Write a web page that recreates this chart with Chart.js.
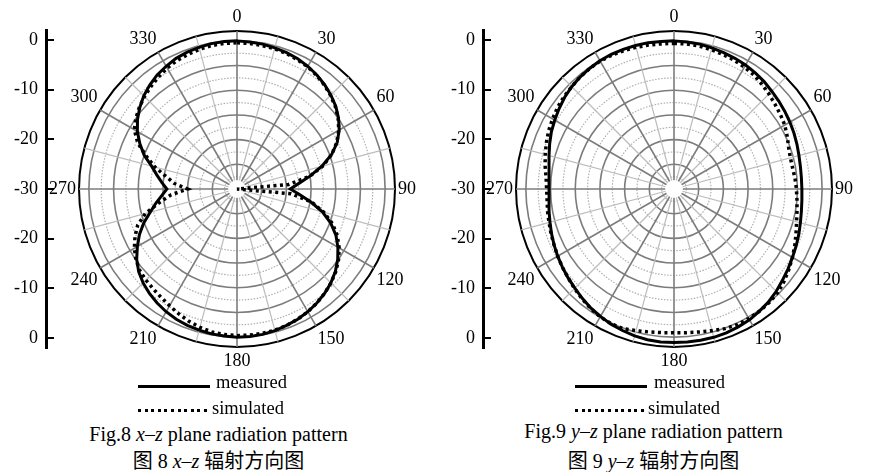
<!DOCTYPE html>
<html lang="zh">
<head>
<meta charset="UTF-8">
<title>Radiation pattern</title>
<script src="https://cdn.jsdelivr.net/npm/chart.js"></script>
<style>
  body { margin: 0; background: #fff; width: 870px; height: 472px; overflow: hidden; position: relative;
         font-family: "Liberation Serif", "Noto Sans CJK SC", serif; color: #000; }
  canvas { position: absolute; }
  .txt { position: absolute; white-space: nowrap; line-height: 1; font-size: 18.5px; }
  .solid { position: absolute; width: 72px; height: 3px; background: #000; }
  .dots { position: absolute; width: 72px; height: 3px;
          background: repeating-linear-gradient(to right, #000 0 3px, transparent 3px 6.6px); }
  .cap { position: absolute; text-align: center; font-size: 20px; line-height: 1; white-space: nowrap; }
</style>
</head>
<body>
<canvas id="axL" width="54" height="366" style="left:0;top:6px"></canvas>
<canvas id="polL" width="376" height="376" style="left:45px;top:2px"></canvas>
<canvas id="axR" width="54" height="366" style="left:437px;top:6px"></canvas>
<canvas id="polR" width="376" height="376" style="left:482px;top:2px"></canvas>

<div class="solid" style="left:138px;top:385px"></div>
<div class="txt" style="left:216px;top:373px">measured</div>
<div class="dots" style="left:138px;top:408.5px"></div>
<div class="txt" style="left:212px;top:399px">simulated</div>
<div class="cap" style="left:0;width:437px;top:424px">Fig.8 <i>x</i>–<i>z</i> plane radiation pattern</div>
<div class="cap" style="left:0;width:437px;top:451px">图 8 <i>x</i>–<i>z</i> 辐射方向图</div>

<div class="solid" style="left:575px;top:385px"></div>
<div class="txt" style="left:654px;top:373px">measured</div>
<div class="dots" style="left:575px;top:408.5px"></div>
<div class="txt" style="left:648px;top:399px">simulated</div>
<div class="cap" style="left:437px;width:433px;top:421px">Fig.9 <i>y</i>–<i>z</i> plane radiation pattern</div>
<div class="cap" style="left:437px;width:433px;top:451px">图 9 <i>y</i>–<i>z</i> 辐射方向图</div>

<script>
// direction in degrees, one sample every 5 degrees, clockwise from the top
const ANGLES = [0, 5, 10, 15, 20, 25, 30, 35, 40, 45, 50, 55, 60, 65, 70, 75, 80, 85,
    90, 95, 100, 105, 110, 115, 120, 125, 130, 135, 140, 145, 150, 155, 160, 165, 170, 175,
    180, 185, 190, 195, 200, 205, 210, 215, 220, 225, 230, 235, 240, 245, 250, 255, 260, 265,
    270, 275, 280, 285, 290, 295, 300, 305, 310, 315, 320, 325, 330, 335, 340, 345, 350, 355];
const ANGLE_LABELS = [0, 30, 60, 90, 120, 150, 180, 210, 240, 270, 300, 330];
// rings of the polar grid in dB, last one is the outer border
const RING_TICKS = [-30, -27.5, -25, -22.5, -20, -17.5, -15, -12.5, -10, -7.5, -5, -2.5, 0, 2];
// side axis: positions and labels (0 at the top and bottom, -30 at the centre)
const AXIS_TICKS = [-30, -20, -10, 0, 10, 20, 30];
const AXIS_LABELS = ['0', '-10', '-20', '-30', '-20', '-10', '0'];

// Fig.8 x-z plane (dB)
const XZ_MEASURED = [0, -0.1, -0.2, -0.4, -0.6, -0.9, -1.3, -1.8, -2.4, -3.1, -3.9, -4.9, -6.1, -7.6, -9.6, -12.2, -15.0, -17.5,
    -19.2, -17.3, -14.8, -12.1, -9.8, -7.9, -6.4, -5.1, -4.0, -3.1, -2.4, -1.8, -1.3, -0.9, -0.6, -0.3, -0.1, 0,
    0, -0.1, -0.2, -0.4, -0.6, -0.9, -1.3, -1.8, -2.4, -3.1, -4.0, -5.2, -6.7, -8.2, -9.9, -11.8, -13.3, -14.7,
    -15.8, -14.7, -13.5, -12.1, -10.0, -8.3, -6.7, -5.4, -4.3, -3.3, -2.5, -1.8, -1.3, -0.8, -0.5, -0.3, -0.1, 0];
const XZ_SIMULATED = [-0.4, -0.4, -0.5, -0.6, -0.8, -1.1, -1.4, -1.9, -2.5, -3.2, -4.0, -5.0, -6.2, -7.7, -9.6, -12.0, -15.0, -19.5,
    -30, -19.0, -14.6, -11.8, -9.4, -7.6, -6.1, -4.9, -3.9, -3.1, -2.4, -1.8, -1.3, -0.9, -0.6, -0.4, -0.3, -0.3,
    -0.3, -0.4, -0.6, -1.0, -1.5, -2.1, -2.7, -3.2, -3.6, -3.9, -4.3, -5.0, -6.0, -7.2, -8.6, -10.8, -14.0, -16.6,
    -20.0, -17.3, -15.4, -12.8, -10.4, -7.8, -6.0, -5.0, -4.2, -3.5, -2.9, -2.3, -1.7, -1.3, -1.0, -0.7, -0.5, -0.4];

// Fig.9 y-z plane (dB)
const YZ_MEASURED = [0, -0.1, -0.2, -0.4, -0.6, -0.8, -1.0, -1.3, -1.6, -2.0, -2.3, -2.6, -2.9, -3.2, -3.5, -3.8, -4.0, -4.1,
    -4.1, -4.0, -3.8, -3.5, -3.1, -2.7, -2.3, -1.8, -1.3, -0.7, -0.2, 0.2, 0.6, 0.8, 1.0, 1.1, 1.1, 1.1,
    1.1, 1.1, 1.0, 0.8, 0.5, 0.2, -0.2, -0.6, -1.1, -1.6, -2.0, -2.4, -2.8, -3.2, -3.6, -4.0, -4.3, -4.6,
    -4.7, -4.6, -4.3, -3.8, -3.2, -2.6, -2.1, -1.6, -1.1, -0.7, -0.4, -0.2, 0, 0.1, 0.1, 0.1, 0.1, 0];
const YZ_SIMULATED = [-0.5, -0.5, -0.6, -0.8, -1.0, -1.2, -1.5, -1.8, -2.3, -2.8, -3.3, -3.7, -4.1, -4.7, -5.3, -5.6, -5.6, -5.4,
    -5.2, -5.0, -4.7, -4.3, -3.7, -3.0, -2.3, -1.6, -0.9, -0.3, 0, 0.2, 0.3, 0.3, 0.1, -0.3, -0.6, -0.8,
    -0.9, -0.8, -0.6, -0.3, 0.1, 0.1, -0.1, -0.5, -1.0, -1.5, -2.0, -2.4, -2.8, -3.2, -3.5, -3.8, -4.0, -4.2,
    -4.2, -4.0, -3.5, -3.0, -2.5, -2.0, -1.6, -1.2, -0.9, -0.7, -0.4, -0.2, -0.1, -0.1, -0.2, -0.3, -0.4, -0.5];

const FONT = { family: 'Liberation Serif', size: 18 };
const R_MIN = RING_TICKS[0];
const R_MAX = RING_TICKS[RING_TICKS.length - 1];
const HOLE_DB = -28.2;

// white disc over the middle of the grid, like the original plot
const holePlugin = {
    id: 'hole',
    beforeDatasetsDraw(chart) {
        const r = chart.scales.r;
        const ctx = chart.ctx;
        ctx.save();
        ctx.fillStyle = '#fff';
        ctx.beginPath();
        ctx.arc(r.xCenter, r.yCenter, r.getDistanceFromCenterForValue(HOLE_DB), 0, 2 * Math.PI);
        ctx.fill();
        ctx.restore();
    }
};

function spoke(ctx) {
    const a = ANGLES[ctx.index];
    if (a % 30 === 0) return 'major';
    if (a % 15 === 0) return 'minor';
    return 'none';
}

function polarChart(id, measured, simulated) {
    return new Chart(document.getElementById(id), {
        type: 'radar',
        data: {
            labels: ANGLES,
            datasets: [
                { label: 'measured', data: measured, borderColor: '#000', borderWidth: 3, fill: false, order: 1 },
                { label: 'simulated', data: simulated, borderColor: '#000', borderWidth: 3.5,
                  borderDash: [3, 3.5], borderCapStyle: 'butt', fill: false, order: 0 }
            ]
        },
        options: {
            responsive: false,
            animation: false,
            layout: { padding: 0 },
            elements: { point: { radius: 0, hitRadius: 0 }, line: { tension: 0 } },
            plugins: { legend: { display: false }, tooltip: { enabled: false } },
            scales: {
                r: {
                    min: R_MIN,
                    max: R_MAX,
                    afterBuildTicks: (s) => { s.ticks = RING_TICKS.map(v => ({ value: v })); },
                    ticks: { display: false },
                    grid: {
                        circular: true,
                        color: (c) => c.tick.value === R_MAX ? '#000' : (c.tick.value % 5 === 0 ? '#7c7c7c' : '#b0b0b0'),
                        lineWidth: (c) => c.tick.value === R_MAX ? 2 : (c.tick.value % 5 === 0 ? 1.6 : 1.2)
                    },
                    border: {
                        dash: (c) => (c.tick.value % 5 === 0 || c.tick.value === R_MAX) ? [] : [1.5, 1.5]
                    },
                    angleLines: {
                        color: (c) => ({ major: '#7c7c7c', minor: '#bcbcbc', none: 'transparent' })[spoke(c)],
                        lineWidth: (c) => ({ major: 1.6, minor: 1.2, none: 0 })[spoke(c)]
                    },
                    pointLabels: {
                        color: '#000',
                        font: FONT,
                        padding: 3,
                        callback: (label) => ANGLE_LABELS.includes(label) ? String(label) : ''
                    }
                }
            }
        },
        plugins: [holePlugin]
    });
}

function sideAxis(id) {
    return new Chart(document.getElementById(id), {
        type: 'scatter',
        data: { datasets: [] },
        options: {
            responsive: false,
            animation: false,
            layout: { padding: { top: 24, bottom: 24, left: 0, right: 0 } },
            plugins: { legend: { display: false }, tooltip: { enabled: false } },
            scales: {
                x: { display: false },
                y: {
                    min: -32,
                    max: 32,
                    afterBuildTicks: (s) => { s.ticks = AXIS_TICKS.map(v => ({ value: v })); },
                    afterFit: (s) => { s.width = 46; },
                    ticks: { color: '#000', font: FONT, padding: 8, callback: (v, i) => AXIS_LABELS[i] },
                    grid: { drawOnChartArea: true, drawTicks: false, color: '#000', lineWidth: 2 },
                    border: { display: true, color: '#000', width: 3 }
                }
            }
        }
    });
}

sideAxis('axL');
sideAxis('axR');
polarChart('polL', XZ_MEASURED, XZ_SIMULATED);
polarChart('polR', YZ_MEASURED, YZ_SIMULATED);
</script>
</body>
</html>
